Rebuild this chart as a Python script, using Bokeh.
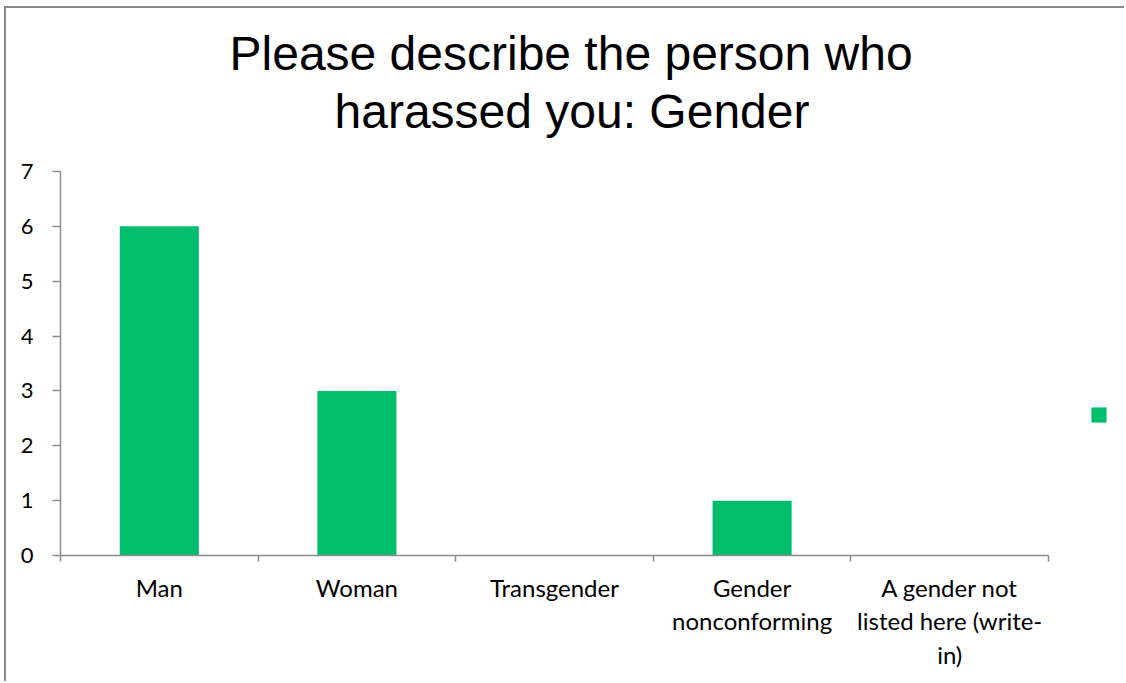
from bokeh.plotting import figure
from bokeh.models import Range1d, FixedTicker, LinearAxis, Legend, LegendItem, Title
from bokeh.embed import file_html
from bokeh.resources import INLINE

categories = ["Man", "Woman", "Transgender", "Gender\nnonconforming",
              "A gender not\nlisted here (write-\nin)"]
counts = [6, 3, 0, 1, 0]
y_ticks = [0, 1, 2, 3, 4, 5, 6, 7]
title_lines = ["Please describe the person who", "harassed you: Gender"]

GREEN = "#00BE6E"
GRAY = "#8c8c8c"
FONT = "Lato"

n = len(categories)
centers = [i + 0.5 for i in range(n)]
bounds = [i for i in range(n + 1)]
x_end = n * 1066 / 988  # leaves room right of the last category for the legend

p = figure(width=1120, height=675, output_backend="svg", toolbar_location=None,
           x_range=Range1d(0, x_end), y_range=Range1d(0, 7),
           x_axis_type=None, y_axis_type=None,
           min_border_left=54, min_border_right=0, min_border_top=163,
           min_border_bottom=128)
p.styles = {"border-left": "2px solid #8a8a8a", "border-top": "2px solid #8a8a8a",
            "margin-left": "4px", "margin-top": "6px"}
p.outline_line_color = None
p.background_fill_color = "white"
p.border_fill_color = "white"

# stacked outward from the plot: spacer, second line, first line
spacer = Title(text=" ", text_font_size="1px", standoff=31)
p.add_layout(spacer, "above")
t2 = Title(text=title_lines[1], align="left", offset=274, text_font="Liberation Sans",
           text_font_size="48px", text_font_style="normal", text_color="black",
           standoff=0)
p.add_layout(t2, "above")
t1 = Title(text=title_lines[0], align="left", offset=169, text_font="Liberation Sans",
           text_font_size="48px", text_font_style="normal", text_color="black",
           standoff=5)
p.add_layout(t1, "above")

r = p.vbar(x=centers, top=counts, width=0.4, fill_color=GREEN, line_color=None)

yaxis = LinearAxis(ticker=FixedTicker(ticks=y_ticks))
yaxis.axis_line_color = GRAY
yaxis.axis_line_width = 1.5
yaxis.major_tick_line_color = GRAY
yaxis.major_tick_line_width = 1.5
yaxis.major_tick_out = 8
yaxis.major_tick_in = 0
yaxis.minor_tick_line_color = None
yaxis.major_label_text_font = FONT
yaxis.major_label_text_font_size = "22px"
yaxis.major_label_text_color = "black"
yaxis.major_label_standoff = 19
p.add_layout(yaxis, "left")

xaxis = LinearAxis(ticker=FixedTicker(ticks=centers, minor_ticks=bounds), bounds=(0, n))
xaxis.major_label_overrides = {c: lab for c, lab in zip(centers, categories)}
xaxis.axis_line_color = GRAY
xaxis.axis_line_width = 1.5
xaxis.major_tick_line_color = None
xaxis.major_tick_out = 0
xaxis.major_tick_in = 0
xaxis.minor_tick_line_color = GRAY
xaxis.minor_tick_line_width = 1.5
xaxis.minor_tick_out = 6
xaxis.minor_tick_in = 0
xaxis.major_label_text_font = FONT
xaxis.major_label_text_font_size = "24px"
xaxis.major_label_text_color = "black"
xaxis.major_label_text_line_height = 1.16
xaxis.major_label_standoff = 11
p.add_layout(xaxis, "below")

p.xgrid.visible = False
p.ygrid.ticker = FixedTicker(ticks=y_ticks)
p.ygrid.bounds = (0, n)
p.ygrid.grid_line_color = GRAY
p.ygrid.grid_line_width = 1.5

legend = Legend(items=[LegendItem(label=" ", renderers=[r])],
                location=(1029, 131), orientation="vertical",
                glyph_width=19, glyph_height=19, label_height=19,
                label_text_font_size="10px", label_standoff=0,
                padding=0, margin=0, spacing=0,
                border_line_color=None, background_fill_alpha=0)
p.add_layout(legend, "center")

open("out.html", "w").write(file_html(p, INLINE))
